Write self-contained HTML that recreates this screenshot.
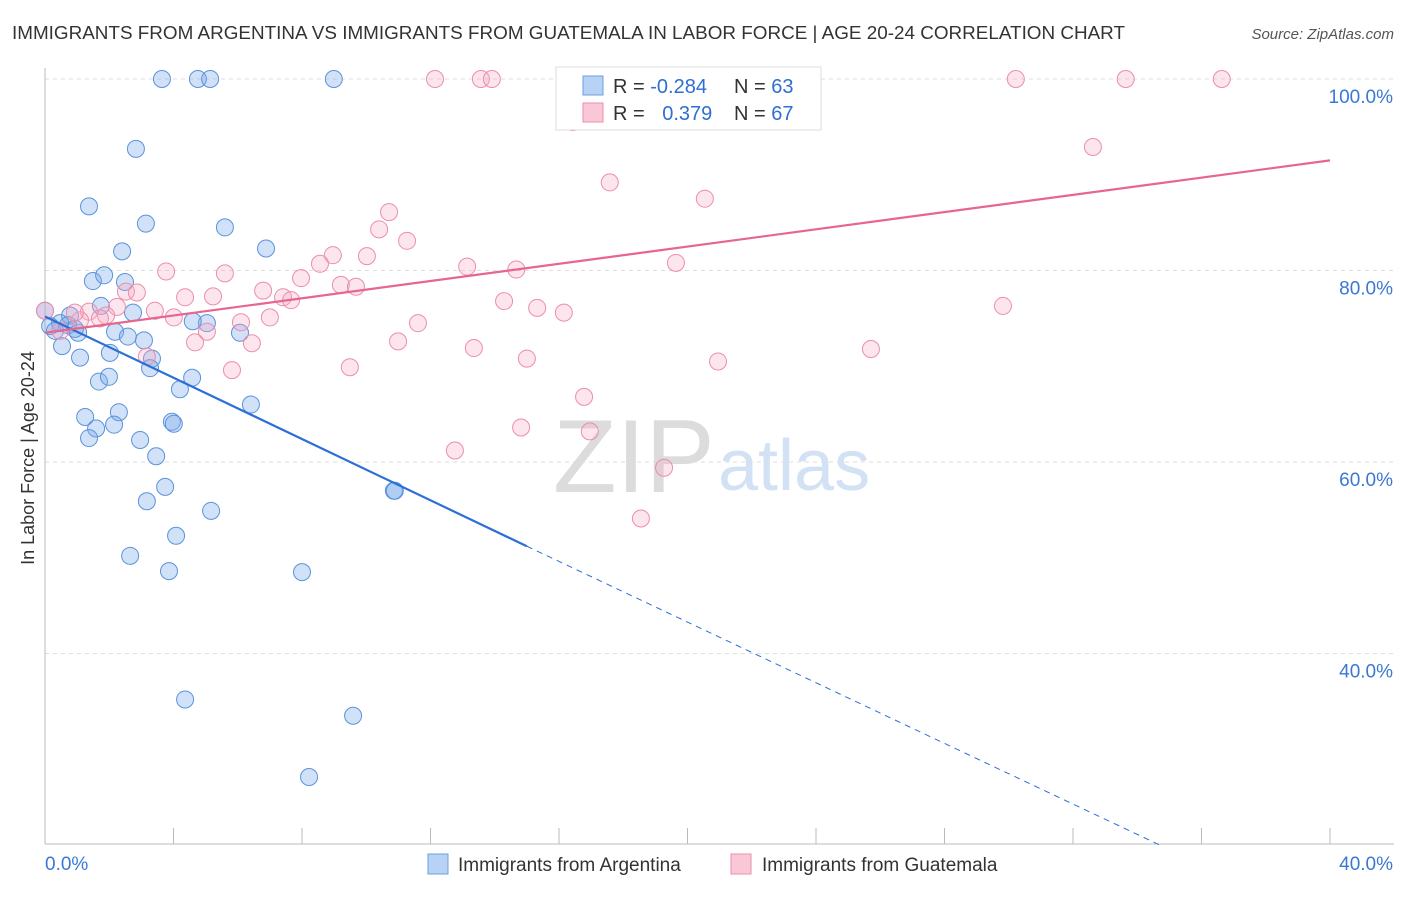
<!DOCTYPE html>
<html><head><meta charset="utf-8"><style>
body{margin:0;background:#fff;font-family:"Liberation Sans",sans-serif}
svg text{font-family:"Liberation Sans",sans-serif}
</style></head><body>
<svg id="chart" width="1406" height="892">
<text x="12" y="39" font-size="18" fill="#333" textLength="1113" lengthAdjust="spacingAndGlyphs">IMMIGRANTS FROM ARGENTINA VS IMMIGRANTS FROM GUATEMALA IN LABOR FORCE | AGE 20-24 CORRELATION CHART</text>
<text x="1394" y="39" font-size="15" fill="#555" font-style="italic" text-anchor="end">Source: ZipAtlas.com</text>
<text x="34" y="458" font-size="18" fill="#333" text-anchor="middle" transform="rotate(-90 34 458)">In Labor Force | Age 20-24</text>
<g id="grid"></g>
<text x="553" y="492" font-size="104" fill="#dcdcdc" font-family="Liberation Serif">ZIP</text>
<text x="718" y="490" font-size="72" fill="#d2e2f4">atlas</text>
<g id="marks"></g>
<g>
<rect x="556" y="67" width="265" height="63" fill="#fff" stroke="#ddd"/>
<rect x="583" y="76" width="20" height="19" fill="#b7d2f5" stroke="#6a9fe0"/>
<rect x="583" y="103" width="20" height="19" fill="#f9c8d6" stroke="#ec8eab"/>
<text x="613" y="93" font-size="20" fill="#333">R = <tspan fill="#2f6fd1">-0.284</tspan></text>
<text x="734" y="93" font-size="20" fill="#333">N = <tspan fill="#2f6fd1">63</tspan></text>
<text x="613" y="120" font-size="20" fill="#333">R = <tspan fill="#2f6fd1" dx="12">0.379</tspan></text>
<text x="734" y="120" font-size="20" fill="#333">N = <tspan fill="#2f6fd1">67</tspan></text>
</g>
<g>
<rect x="428" y="854" width="20" height="20" fill="#b7d2f5" stroke="#6a9fe0"/>
<text x="458" y="871" font-size="19" fill="#333">Immigrants from Argentina</text>
<rect x="731" y="854" width="20" height="20" fill="#f9c8d6" stroke="#ec8eab"/>
<text x="762" y="871" font-size="19" fill="#333">Immigrants from Guatemala</text>
</g>
</svg>
<script>
const xTicks=[0,4,8,12,16,20,24,28,32,36,40];
const yTicks=[40,60,80,100];
const yTickLabels=["40.0%","60.0%","80.0%","100.0%"];
const blueX=[3.64,4.76,5.14,8.99,2.83,1.37,3.14,5.6,6.88,2.4,1.49,1.84,2.49,1.74,2.74,0,0.78,0.47,0.16,0.72,1.03,0.53,1.09,2.18,2.58,3.08,2.02,3.33,3.27,5.04,4.6,6.07,1.68,1.99,4.2,4.58,6.41,1.25,2.3,2.15,3.95,4.01,1.59,1.37,2.96,3.46,10.86,10.89,3.74,3.17,5.17,4.08,2.65,3.86,8.0,4.36,9.59,8.22,0.93,0.31];
const blueY=[100,100,100,100,92.7,86.7,84.9,84.5,82.3,82.0,78.9,79.5,78.8,76.3,75.6,75.8,75.3,74.5,74.2,74.3,73.5,72.1,70.9,73.6,73.1,72.7,71.4,70.8,69.8,74.5,74.7,73.5,68.4,68.9,67.6,68.8,66.0,64.7,65.2,63.9,64.2,64.0,63.5,62.5,62.3,60.6,57.0,57.0,57.4,55.9,54.9,52.3,50.2,48.6,48.5,35.2,33.5,27.1,73.9,73.7];
const pinkX=[12.14,13.57,13.91,19.14,30.22,33.64,36.63,16.43,32.62,17.58,20.54,10.71,10.4,11.27,10.02,8.96,8.56,13.14,14.67,19.64,3.77,5.6,7.97,6.79,2.52,2.86,4.36,5.23,7.41,7.66,9.21,9.68,14.29,15.32,16.15,29.82,3.42,4.01,2.24,1.37,7.0,1.9,6.1,5.04,11.61,4.67,6.44,10.99,13.35,15.0,20.95,25.71,9.49,5.82,3.17,16.78,14.82,16.96,12.76,19.27,18.55,0,0.47,1.09,1.71,0.93];
const pinkY=[100,100,100,100,100,100,100,95.5,92.9,89.2,87.5,86.1,84.3,83.1,81.5,81.6,80.7,80.4,80.1,80.8,79.9,79.7,79.2,77.9,77.8,77.7,77.2,77.3,77.2,76.9,78.5,78.3,76.8,76.1,75.6,76.3,75.8,75.1,76.2,75.7,75.1,75.3,74.6,73.6,74.5,72.5,72.4,72.6,71.9,70.8,70.5,71.8,69.9,69.6,71.0,66.8,63.6,63.2,61.2,59.4,54.1,75.8,73.7,74.8,75.0,75.6];
const NS="http://www.w3.org/2000/svg";
const X=v=>45+v/40*1285, Y=v=>79+(100-v)*9.575;
function mk(t,a,p){const e=document.createElementNS(NS,t);for(const k in a)e.setAttribute(k,a[k]);p.appendChild(e);return e;}
const grid=document.getElementById('grid'),marks=document.getElementById('marks'),svg=document.getElementById('chart');
yTicks.forEach((v,i)=>{const l=mk('line',{x1:45,x2:1394,y1:Y(v),y2:Y(v),stroke:'#ddd','stroke-dasharray':'4,4'},grid);


const t=mk('text',{x:1393,y:Y(v)+24,'font-size':19,fill:'#3a78d4','text-anchor':'end'},svg);t.textContent=yTickLabels[i];

});
mk('line',{x1:45,x2:45,y1:68,y2:844,stroke:'#bbb'},grid);
mk('line',{x1:45,x2:1394,y1:844,y2:844,stroke:'#bbb'},grid);
xTicks.forEach(v=>{const l=mk('line',{x1:X(v),x2:X(v),y1:828,y2:844,stroke:'#bbb'},grid);

});
[[0,"0.0%","start",45],[40,"40.0%","end",1393]].forEach(a=>{const t=mk('text',{x:a[3],y:870,'font-size':19,fill:'#3a78d4','text-anchor':a[2]},svg);t.textContent=a[1];

});
blueX.forEach((x,i)=>{const c=mk('circle',{cx:X(x),cy:Y(blueY[i]),r:8.5,fill:'rgba(120,170,235,0.35)',stroke:'#5b93dc','stroke-width':1},marks);

});
pinkX.forEach((x,i)=>{const c=mk('circle',{cx:X(x),cy:Y(pinkY[i]),r:8.5,fill:'rgba(245,170,195,0.3)',stroke:'#ec8eab','stroke-width':1},marks);

});
let e=mk('line',{x1:X(0),y1:Y(75.2),x2:X(15),y2:Y(51.2),stroke:'#2c6fd6','stroke-width':2.2},marks);


e=mk('line',{x1:X(15),y1:Y(51.2),x2:X(34.7),y2:Y(20),stroke:'#2c6fd6','stroke-width':1,'stroke-dasharray':'6,5'},marks);


e=mk('line',{x1:X(0),y1:Y(73.5),x2:X(40),y2:Y(91.5),stroke:'#e6668f','stroke-width':2.2},marks);


</script>
</body></html>
